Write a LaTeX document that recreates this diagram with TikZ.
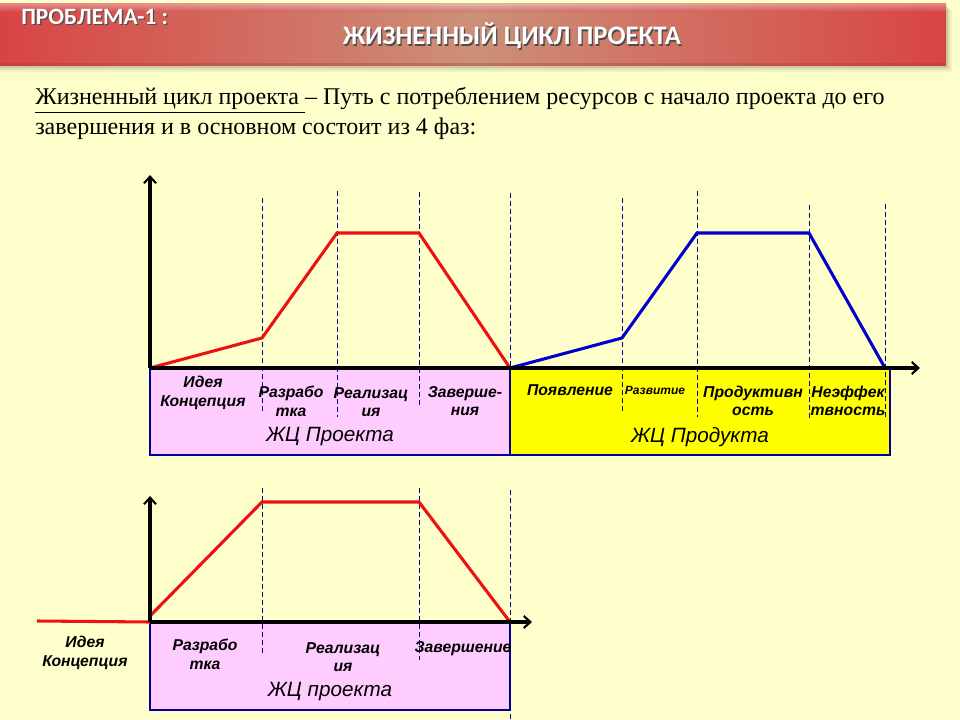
\documentclass[tikz,border=0pt]{standalone}
\usepackage{fontspec}
\setmainfont{Liberation Serif}
\newfontfamily\labfont{Liberation Sans}
\newfontfamily\headfont{Carlito}
\usetikzlibrary{arrows.meta}
\definecolor{bgyellow}{HTML}{FFFFCC}
\definecolor{barred}{HTML}{D84444}
\definecolor{barlight}{HTML}{CC9078}
\definecolor{pinkbox}{HTML}{FFCCFF}
\definecolor{yellowbox}{HTML}{FFFF00}
\definecolor{navy}{HTML}{000099}
\definecolor{lred}{HTML}{EE1111}
\definecolor{lblue}{HTML}{0000CC}
\begin{document}
\begin{tikzpicture}[x=0.75pt,y=-0.75pt,
  axis/.style={line width=2.4pt,black,-{Straight Barb[length=5pt,width=9pt,line width=1.6pt]}},
  guide/.style={navy,line width=0.7pt,dash pattern=on 3.5pt off 2.5pt},
  curvered/.style={lred,line width=2.3pt,line join=miter},
  curveblue/.style={lblue,line width=2.3pt,line join=miter},
  phasebox/.style={draw=navy,line width=0.8pt},
  phase/.style={font=\labfont\bfseries\itshape\fontsize{11.8}{14}\selectfont,align=center,inner sep=0pt},
  cycle/.style={font=\labfont\itshape\fontsize{15.5}{18}\selectfont,inner sep=0pt},
  body/.style={font=\fontsize{18}{21}\selectfont,anchor=base west,inner sep=0pt}]
\useasboundingbox (0,0) rectangle (960,720);
\fill[bgyellow] (0,0) rectangle (960,720);

% title bar with soft shadow
\foreach \k/\o in {6/0.05,4/0.07,2/0.09}
  \fill[black,opacity=\o] (0,4+\k) rectangle (946+\k,66+\k);
\shade[left color=barred,right color=barred,middle color=barlight] (0,4) rectangle (946,66);
\shade[top color=white,bottom color=barred,opacity=0.35] (0,4) rectangle (946,12);
\fill[barred!80!black,opacity=0.35] (0,63) rectangle (946,66);

\foreach \dx/\c in {1.3/black!70,0/white}
  \node[text=\c,font=\headfont\bfseries\fontsize{17.5}{19}\selectfont,anchor=west,inner sep=0pt]
    (ttl1) at (21+\dx,17+\dx) {ПРОБЛЕМА-1 :};
\foreach \dx/\c in {1.3/black!70,0/white}
  \node[text=\c,font=\headfont\bfseries\fontsize{20}{22}\selectfont,inner sep=0pt]
    (ttl2) at (512+\dx,36+\dx) {ЖИЗНЕННЫЙ ЦИКЛ ПРОЕКТА};

% definition text
\node[body] (def1) at (35,105) {\underline{Жизненный цикл проекта\ }– Путь с потреблением ресурсов с начало проекта до его};
\node[body] (def2) at (35,135) {завершения и в основном состоит из 4 фаз:};

% ---------- upper chart ----------
\fill[pinkbox] (150,368) rectangle (510,455);
\fill[yellowbox] (510,368) rectangle (890,455);
\draw[phasebox] (150,368) rectangle (510,455);
\draw[phasebox] (510,368) rectangle (890,455);

\draw[guide] (262,198) -- (262,412);
\draw[guide] (337,191) -- (337,417);
\draw[guide] (419,192) -- (419,405);
\draw[guide] (510,193) -- (510,368);
\draw[guide] (622,198) -- (622,413);
\draw[guide] (697,191) -- (697,417);
\draw[guide] (809,205) -- (809,418);
\draw[guide] (885,204) -- (885,418);

\coordinate (o1) at (150,368);
\coordinate (p1) at (262,338);
\coordinate (p2) at (337,233);
\coordinate (p3) at (419,233);
\coordinate (p4) at (510,368);
\coordinate (q1) at (622,338);
\coordinate (q2) at (697,233);
\coordinate (q3) at (809,233);
\coordinate (q4) at (885,368);
\coordinate (ytop1) at (150,175);
\coordinate (xend1) at (920,368);

\draw[curvered] (o1) -- (p1) -- (p2) -- (p3) -- (p4);
\draw[curveblue] (p4) -- (q1) -- (q2) -- (q3) -- (q4);
\draw[axis] (o1) -- (ytop1);
\draw[axis] (o1) -- (xend1);

\node[phase] (u1) at (203,393) {Идея\\Концепция};
\node[phase] (u2) at (291,401) {Разрабо\\тка};
\node[phase] (u3) at (371,402) {Реализац\\ия};
\node[phase] (u4) at (465,401) {Заверше-\\ния};
\node[cycle] (uc1) at (330,437) {ЖЦ Проекта};
\node[phase] (v1) at (570,390) {Появление};
\node[phase,font=\labfont\bfseries\itshape\fontsize{9}{10}\selectfont] (v2) at (655,390) {Развитие};
\node[phase] (v3) at (753,401) {Продуктивн\\ость};
\node[phase] (v4) at (848,401) {Неэффек\\твность};
\node[cycle] (uc2) at (700,437) {ЖЦ Продукта};

% ---------- lower chart ----------
\fill[pinkbox] (150,622) rectangle (510,710);
\draw[phasebox] (150,622) rectangle (510,710);

\draw[guide] (262,488) -- (262,653);
\draw[guide] (419,488) -- (419,660);
\draw[guide] (510,490) -- (510,720);

\coordinate (o2) at (150,622);
\coordinate (r0) at (37,621);
\coordinate (r1) at (150,616);
\coordinate (r2) at (262,502);
\coordinate (r3) at (419,502);
\coordinate (r4) at (510,622);
\coordinate (ytop2) at (150,496);
\coordinate (xend2) at (532,622);

\draw[curvered] (r0) -- (o2);
\draw[curvered] (r1) -- (r2) -- (r3) -- (r4);
\draw[axis] (o2) -- (ytop2);
\draw[axis] (o2) -- (xend2);

\node[phase] (w1) at (85,653) {Идея\\Концепция};
\node[phase] (w2) at (205,654) {Разрабо\\тка};
\node[phase] (w3) at (343,657) {Реализац\\ия};
\node[phase] (w4) at (463,649) {Завершение};
\node[cycle] (wc) at (330,692) {ЖЦ проекта};
\end{tikzpicture}
\end{document}
